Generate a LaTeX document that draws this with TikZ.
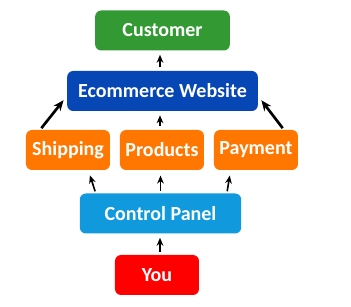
\documentclass[tikz,border=0pt]{standalone}
\usepackage{fontspec}
\setmainfont{Carlito}
\usetikzlibrary{arrows.meta, positioning, calc}
\definecolor{custgreen}{HTML}{339933}
\definecolor{webblue}{HTML}{0747B5}
\definecolor{partorange}{HTML}{FF7700}
\definecolor{panelblue}{HTML}{1199DD}
\definecolor{youred}{HTML}{FF0000}

\tikzset{
  box/.style={rounded corners=4.5pt, text=white, font=\fontsize{15}{17}\selectfont\bfseries,
    minimum height=30pt, inner sep=0pt},
  up/.style={-{Stealth[length=6pt,width=5pt]}, line width=1.2pt, black},
  bigup/.style={-{Stealth[length=8pt,width=6.5pt]}, line width=2pt, black}
}

\begin{document}
\begin{tikzpicture}[x=0.75pt, y=-0.75pt]
            \useasboundingbox (0,0) rectangle (351,307);
            \node[box, fill=custgreen, minimum width=101pt] (cust) at (162.5,30.5) {Customer};
            \node[box, fill=webblue, minimum width=143pt] (web) at (162.5,91) {Ecommerce Website};

            \node[box, fill=partorange, minimum width=63pt] (ship) at (68,150) {Shipping};
            \node[box, fill=partorange, minimum width=63pt] (prod) at (162,150) {Products};
            \node[box, fill=partorange, minimum width=63pt] (pay) at (256,150) {Payment};

            \node[box, fill=panelblue, minimum width=121pt] (panel) at (160.5,213.5) {Control Panel};
            \node[box, fill=youred, minimum width=63pt] (you) at (157,275) {You};

            \draw[up, shorten <=2.5pt, shorten >=3pt] (web.north -| cust.south) ++(-2.5,0) coordinate (a1) -- (a1 |- cust.south);
            \draw[up, shorten <=2.5pt, shorten >=3pt] (prod.north) ++(-2,0) coordinate (a2) -- (a2 |- web.south);
            \draw[bigup, shorten <=1.5pt, shorten >=4pt] (ship.144) -- (web.183);
            \draw[bigup, shorten <=1.5pt, shorten >=4pt] (pay.36) -- (web.-3);

            \draw[up, shorten <=1.5pt, shorten >=4pt] ($(panel.north west)!0.1!(panel.north east)$) -- ($(ship.south west)!0.74!(ship.south east)$);
            \draw[up, shorten <=2pt, shorten >=4pt] (panel.north) -- (panel.north |- prod.south);
            \draw[up, shorten <=1.5pt, shorten >=4pt] ($(panel.north west)!0.91!(panel.north east)$) -- ($(pay.south west)!0.2!(pay.south east)$);

            \draw[up, shorten <=2pt, shorten >=3pt] (you.north) ++(3,0) coordinate (a3) -- (a3 |- panel.south);
        \end{tikzpicture}
\end{document}
